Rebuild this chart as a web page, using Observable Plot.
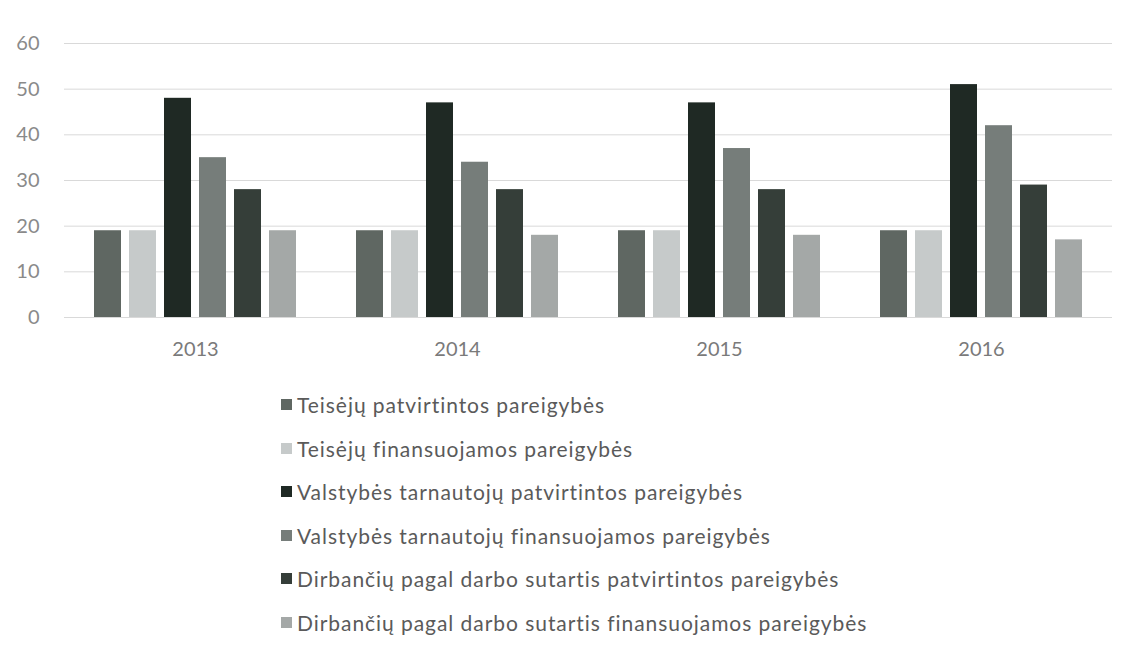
<!DOCTYPE html>
<html><head><meta charset="utf-8">
<script src="https://cdn.jsdelivr.net/npm/d3@7"></script>
<script src="https://cdn.jsdelivr.net/npm/@observablehq/plot@0.6"></script>
<style>
body{margin:0;background:#fff;font-family:Lato,"Open Sans",sans-serif;}
#legend{padding:13px 0 0 281px;}
.row{height:43.5px;display:flex;align-items:center;font-size:21px;color:#5a5a5a;letter-spacing:0.95px;}
.sw{width:11px;height:11px;margin-right:5px;flex:none;}
</style></head><body>
<div id="chart"></div><div id="legend"></div>
<script>
const years = ["2013", "2014", "2015", "2016"];
const seriesNames = [
  "Teisėjų patvirtintos pareigybės",
  "Teisėjų finansuojamos pareigybės",
  "Valstybės tarnautojų patvirtintos pareigybės",
  "Valstybės tarnautojų finansuojamos pareigybės",
  "Dirbančių pagal darbo sutartis patvirtintos pareigybės",
  "Dirbančių pagal darbo sutartis finansuojamos pareigybės"
];
const teisejuPatvirtintos = [19, 19, 19, 19];
const teisejuFinansuojamos = [19, 19, 19, 19];
const valstybesPatvirtintos = [48, 47, 47, 51];
const valstybesFinansuojamos = [35, 34, 37, 42];
const dirbanciuPatvirtintos = [28, 28, 28, 29];
const dirbanciuFinansuojamos = [19, 18, 18, 17];
const yTicks = [0, 10, 20, 30, 40, 50, 60];
const colors = ["#5f6762", "#c6caca", "#1f2924", "#767d7a", "#353e39", "#a4a8a7"];

const seriesValues = [teisejuPatvirtintos, teisejuFinansuojamos, valstybesPatvirtintos,
  valstybesFinansuojamos, dirbanciuPatvirtintos, dirbanciuFinansuojamos];
const table = years.flatMap((yr, i) => seriesNames.map((s, j) => ({year: yr, series: s, value: seriesValues[j][i]})));

const chart = Plot.plot({
  width: 1133,
  height: 370,
  marginTop: 43,
  marginBottom: 53,
  marginLeft: 63,
  marginRight: 20,
  style: {fontFamily: "Lato, 'Open Sans', sans-serif", fontSize: "20px", color: "#7a7a7a", background: "#fff"},
  fx: {domain: years, padding: 0, label: null, axis: "bottom", tickSize: 0, tickPadding: 24},
  x: {domain: seriesNames, paddingInner: 0.23, paddingOuter: 0.8, axis: null},
  y: {domain: [0, 60], axis: null},
  color: {domain: seriesNames, range: colors},
  marks: [
    Plot.gridY(yTicks, {stroke: "#d9d9d9", strokeOpacity: 1}),
    Plot.barY(table, {fx: "year", x: "series", y: "value", fill: "series"}),
    Plot.axisY(yTicks, {tickSize: 0, tickPadding: 25, fill: "#8a8a8a", fontSize: 20, label: null})
  ]
});
document.getElementById("chart").appendChild(chart);

const legend = document.getElementById("legend");
seriesNames.forEach((s, i) => {
  const row = document.createElement("div");
  row.className = "row";
  const sw = document.createElement("span");
  sw.className = "sw";
  sw.style.background = colors[i];
  const t = document.createElement("span");
  t.textContent = s;
  row.appendChild(sw);
  row.appendChild(t);
  legend.appendChild(row);
});
</script>
</body></html>
